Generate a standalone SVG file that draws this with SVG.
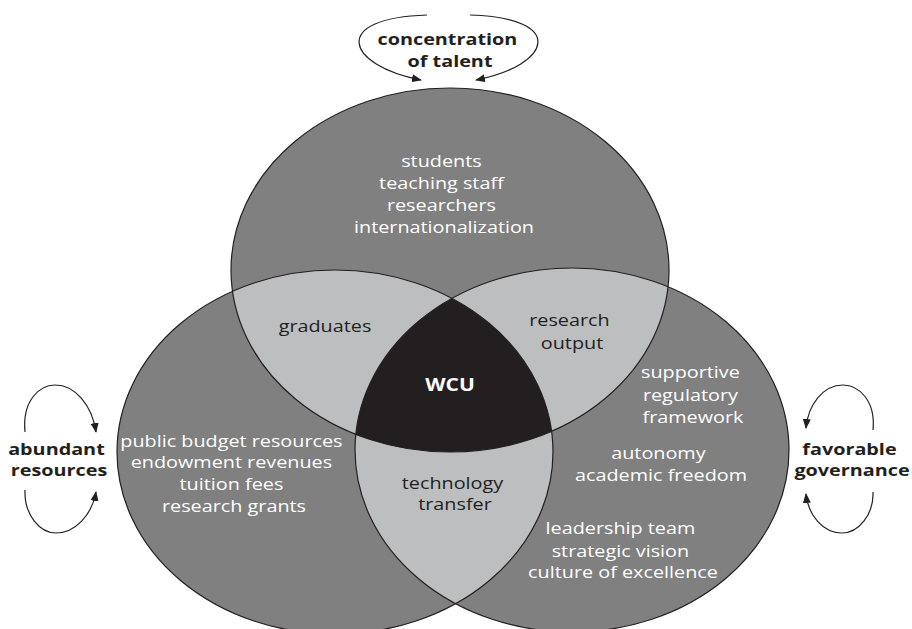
<svg xmlns="http://www.w3.org/2000/svg" width="912" height="629" viewBox="0 0 912 629">
  <style>
    .set { fill: #808080; }
    .pair { fill: #bcbec0; }
    .core { fill: #231f20; }
    .rim { fill: none; stroke: #231f20; stroke-width: 1.2; }
    .lbl { font-family: "Open Sans", "Liberation Sans", sans-serif; font-size: 16.5px; text-anchor: middle; }
    .lt { fill: #ffffff; }
    .dk { fill: #231f20; }
    .bold { font-weight: 700; }
    .loop { fill: none; stroke: #231f20; stroke-width: 1.2; marker-end: url(#head); }
  </style>
  <defs>
    <marker id="head" viewBox="0 0 10 8" refX="9" refY="4" markerWidth="10" markerHeight="8" markerUnits="userSpaceOnUse" orient="auto">
      <path d="M0,0 L10,4 L0,8 Z" fill="#231f20"/>
    </marker>
    <clipPath id="in-talent"><ellipse cx="450" cy="270" rx="219" ry="182"/></clipPath>
    <clipPath id="in-resources"><ellipse cx="335" cy="452" rx="218" ry="182"/></clipPath>
    <clipPath id="in-governance"><ellipse cx="572" cy="450" rx="217" ry="182"/></clipPath>
  </defs>

  <!-- base sets -->
  <g id="talent">
    <ellipse class="set" cx="450" cy="270" rx="219" ry="182"/>
  </g>
  <g id="resources">
    <ellipse class="set" cx="335" cy="452" rx="218" ry="182"/>
  </g>
  <g id="governance">
    <ellipse class="set" cx="572" cy="450" rx="217" ry="182"/>
  </g>

  <!-- pairwise overlaps -->
  <g id="graduates">
    <ellipse class="pair" cx="335" cy="452" rx="218" ry="182" clip-path="url(#in-talent)"/>
  </g>
  <g id="research-output">
    <ellipse class="pair" cx="572" cy="450" rx="217" ry="182" clip-path="url(#in-talent)"/>
  </g>
  <g id="technology-transfer">
    <ellipse class="pair" cx="572" cy="450" rx="217" ry="182" clip-path="url(#in-resources)"/>
  </g>

  <!-- triple overlap -->
  <g id="wcu">
    <g clip-path="url(#in-governance)">
      <ellipse class="core" cx="450" cy="270" rx="219" ry="182" clip-path="url(#in-resources)"/>
    </g>
  </g>

  <!-- outlines -->
  <g id="outlines">
    <ellipse class="rim" cx="450" cy="270" rx="219" ry="182"/>
    <ellipse class="rim" cx="335" cy="452" rx="218" ry="182"/>
    <ellipse class="rim" cx="572" cy="450" rx="217" ry="182"/>
  </g>

  <!-- labels inside the sets -->
  <g id="talent-label">
    <text class="lbl lt" transform="translate(444 167) scale(1.2 1)">
      <tspan x="0" y="0">students</tspan>
      <tspan x="0" y="22">teaching staff</tspan>
      <tspan x="0" y="44">researchers</tspan>
      <tspan x="0" y="66">internationalization</tspan>
    </text>
  </g>
  <g id="resources-label">
    <text class="lbl lt" transform="translate(234 447) scale(1.2 1)">
      <tspan x="0" y="0">public budget resources</tspan>
      <tspan x="0" y="21.5">endowment revenues</tspan>
      <tspan x="0" y="43">tuition fees</tspan>
      <tspan x="0" y="65">research grants</tspan>
    </text>
  </g>
  <g id="governance-label">
    <text class="lbl lt" transform="translate(693 378) scale(1.2 1)">
      <tspan x="0" y="0">supportive</tspan>
      <tspan x="0" y="23">regulatory</tspan>
      <tspan x="0" y="45">framework</tspan>
    </text>
    <text class="lbl lt" transform="translate(661 459) scale(1.2 1)">
      <tspan x="0" y="0">autonomy</tspan>
      <tspan x="0" y="22">academic freedom</tspan>
    </text>
    <text class="lbl lt" transform="translate(623 534) scale(1.2 1)">
      <tspan x="0" y="0">leadership team</tspan>
      <tspan x="0" y="23">strategic vision</tspan>
      <tspan x="0" y="44">culture of excellence</tspan>
    </text>
  </g>
  <g id="graduates-label">
    <text class="lbl dk" transform="translate(325 332) scale(1.2 1)">graduates</text>
  </g>
  <g id="research-output-label">
    <text class="lbl dk" transform="translate(572 326) scale(1.2 1)">
      <tspan x="0" y="0">research</tspan>
      <tspan x="0" y="23">output</tspan>
    </text>
  </g>
  <g id="technology-transfer-label">
    <text class="lbl dk" transform="translate(455 489) scale(1.2 1)">
      <tspan x="0" y="0">technology</tspan>
      <tspan x="0" y="21">transfer</tspan>
    </text>
  </g>
  <g id="wcu-label">
    <text class="lbl lt bold" transform="translate(450 391) scale(1.2 1)" style="font-size:17.5px">WCU</text>
  </g>

  <!-- drivers outside the sets -->
  <g id="concentration-of-talent">
    <text class="lbl dk bold" transform="translate(450 45) scale(1.2 1)">
      <tspan x="0" y="0">concentration</tspan>
      <tspan x="0" y="22">of talent</tspan>
    </text>
  </g>
  <g id="abundant-resources">
    <text class="lbl dk bold" transform="translate(59 455) scale(1.2 1)">
      <tspan x="0" y="0">abundant</tspan>
      <tspan x="0" y="21">resources</tspan>
    </text>
  </g>
  <g id="favorable-governance">
    <text class="lbl dk bold" transform="translate(852 455) scale(1.2 1)">
      <tspan x="0" y="0">favorable</tspan>
      <tspan x="0" y="21">governance</tspan>
    </text>
  </g>

  <!-- looping arrows -->
  <g id="connectors">
    <path class="loop" d="M427,15 C330,18 345,65 421,80"/>
    <path class="loop" d="M470,15 C567,18 552,65 476,80"/>
    <path class="loop" d="M25,432 C22,400 40,385 55,385 C75,385 92,405 96,432"/>
    <path class="loop" d="M25,490 C24,515 40,533 56,533 C75,533 92,515 96,492"/>
    <path class="loop" d="M873,430 C876,400 858,385 843,385 C823,385 808,405 806,428"/>
    <path class="loop" d="M873,492 C874,515 858,533 842,533 C823,533 808,515 806,494"/>
  </g>
</svg>
